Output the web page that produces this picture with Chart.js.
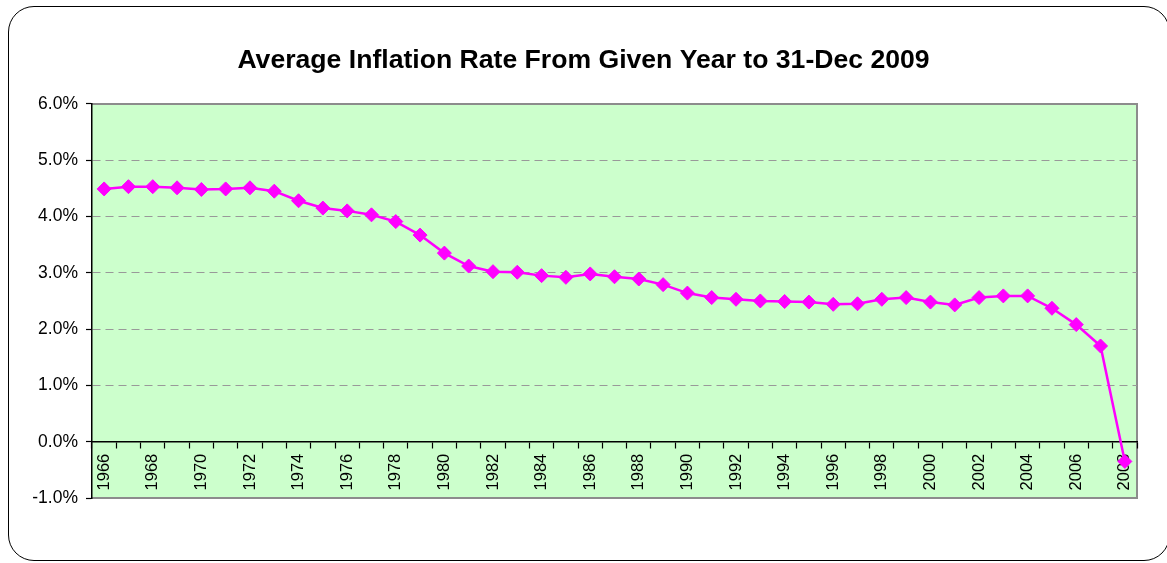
<!DOCTYPE html>
<html><head><meta charset="utf-8">
<script src="https://cdn.jsdelivr.net/npm/chart.js@4"></script>
<style>
html,body{margin:0;padding:0;background:#fff;overflow:hidden}
#frame{position:absolute;left:8px;top:6px;width:1162px;height:555px;border:1.5px solid #000;border-radius:26px;box-sizing:border-box}
#wrap{position:absolute;left:0;top:0;width:1167px;height:563px}
</style></head><body>
<div id="frame"></div>
<div id="wrap"><canvas id="c" width="1167" height="563"></canvas></div>
<script>
const titleText = 'Average Inflation Rate From Given Year to 31-Dec 2009';
const years = ['1966','1967','1968','1969','1970','1971','1972','1973','1974','1975',
  '1976','1977','1978','1979','1980','1981','1982','1983','1984','1985',
  '1986','1987','1988','1989','1990','1991','1992','1993','1994','1995',
  '1996','1997','1998','1999','2000','2001','2002','2003','2004','2005',
  '2006','2007','2008'];
const inflation = [4.49,4.53,4.53,4.51,4.48,4.49,4.51,4.45,4.28,4.15,
  4.10,4.03,3.91,3.67,3.35,3.12,3.02,3.01,2.95,2.92,
  2.98,2.93,2.89,2.79,2.64,2.56,2.53,2.50,2.49,2.48,
  2.44,2.45,2.53,2.56,2.48,2.43,2.56,2.59,2.59,2.37,
  2.08,1.70,-0.35];
const yTickValues = [-1,0,1,2,3,4,5,6];
const yTickLabels = ['-1.0%','0.0%','1.0%','2.0%','3.0%','4.0%','5.0%','6.0%'];

const plotBg = {
  id: 'plotBg',
  beforeDraw(chart) {
    const {ctx, chartArea: a} = chart;
    ctx.save();
    ctx.fillStyle = '#CCFFCC';
    ctx.fillRect(a.left, a.top, a.right - a.left, a.bottom - a.top);
    ctx.strokeStyle = '#8c8c8c';
    ctx.lineWidth = 2;
    ctx.beginPath();
    ctx.moveTo(a.left, a.top);
    ctx.lineTo(a.right, a.top);
    ctx.lineTo(a.right, a.bottom);
    ctx.lineTo(a.left, a.bottom);
    ctx.stroke();
    ctx.restore();
  }
};

new Chart(document.getElementById('c'), {
  type: 'line',
  data: {
    labels: years,
    datasets: [{
      data: inflation,
      borderColor: '#FF00FF',
      backgroundColor: '#FF00FF',
      borderWidth: 2.5,
      pointStyle: 'rectRot',
      pointRadius: 7,
      pointBorderWidth: 1,
      pointBackgroundColor: '#FF00FF',
      pointBorderColor: '#FF00FF',
      tension: 0,
      fill: false
    }]
  },
  options: {
    responsive: false,
    animation: false,
    layout: { padding: { left: 0, right: 0, top: 0, bottom: 65 } },
    plugins: {
      legend: { display: false },
      tooltip: { enabled: false },
      title: {
        display: true,
        text: titleText,
        color: '#000',
        font: { family: "'Liberation Sans', Arial, sans-serif", size: 26.6, weight: 'bold' },
        padding: { top: 45, bottom: 27 }
      }
    },
    scales: {
      x: {
        type: 'category',
        offset: true,
        position: { y: 0 },
        z: 1,
        grid: { display: true, drawOnChartArea: false, drawTicks: true, tickLength: 6, tickColor: '#000', tickWidth: 1.2, offset: true },
        border: { display: true, color: '#000', width: 1.5 },
        ticks: {
          autoSkip: false, minRotation: 90, maxRotation: 90, padding: 6, color: '#000',
          font: { family: "'Liberation Sans', Arial, sans-serif", size: 16.5 },
          callback: (v, i) => (i % 2 === 0 ? years[i] : '')
        }
      },
      y: {
        min: -1, max: 6,
        afterFit: (s) => { s.width = 92; },
        afterBuildTicks: (s) => { s.ticks = yTickValues.map(v => ({ value: v })); },
        grid: {
          color: (c) => (c.tick && c.tick.value > 0 && c.tick.value < 6) ? '#999999' : 'rgba(0,0,0,0)',
          lineWidth: 1,
          tickColor: '#000', tickLength: 6, tickWidth: 1.2
        },
        border: { display: true, color: '#000', width: 1.5, dash: [8, 5] },
        ticks: {
          padding: 8, color: '#000',
          font: { family: "'Liberation Sans', Arial, sans-serif", size: 17.5 },
          callback: (v) => yTickLabels[yTickValues.indexOf(v)]
        }
      },
      yRight: {
        position: 'right',
        display: true,
        min: -1, max: 6,
        afterFit: (s) => { s.width = 30; },
        grid: { display: false, drawTicks: false },
        border: { display: false },
        ticks: { display: false }
      }
    }
  },
  plugins: [plotBg]
});
</script>
</body></html>
